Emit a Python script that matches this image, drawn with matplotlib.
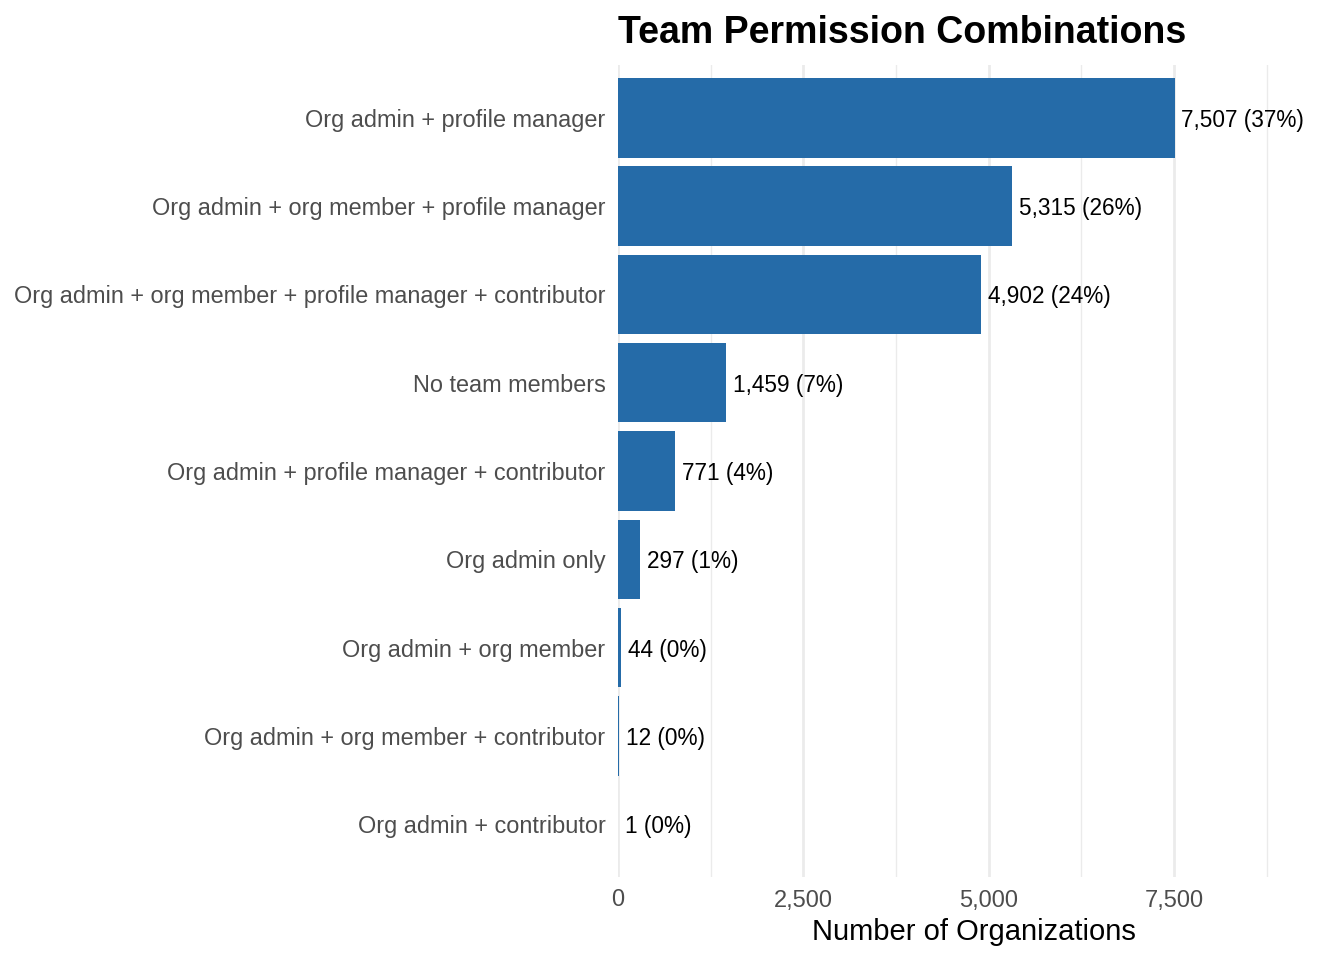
import matplotlib
matplotlib.use('Agg')
import matplotlib.pyplot as plt
from matplotlib.ticker import FuncFormatter, MultipleLocator

categories = [
    'Org admin + contributor',
    'Org admin + org member + contributor',
    'Org admin + org member',
    'Org admin only',
    'Org admin + profile manager + contributor',
    'No team members',
    'Org admin + org member + profile manager + contributor',
    'Org admin + org member + profile manager',
    'Org admin + profile manager',
]
counts = [1, 12, 44, 297, 771, 1459, 4902, 5315, 7507]
pct_labels = ['0%', '0%', '0%', '1%', '4%', '7%', '24%', '26%', '37%']

plt.rcParams['font.family'] = ['Liberation Sans', 'DejaVu Sans']

fig = plt.figure(figsize=(13.44, 9.6), dpi=100)
ax = fig.add_axes([618 / 1344, 83 / 960, (1329 - 618) / 1344, (895 - 83) / 960])

y = list(range(len(categories)))
ax.barh(y, counts, height=0.9, color='#256BA8', zorder=2)

for yi, c, p in zip(y, counts, pct_labels):
    ax.text(c + 90, yi, f'{c:,} ({p})', va='center_baseline', ha='left',
            fontsize=16.3, color='black', zorder=3)

ax.set_xlim(0, 9590)
ax.set_ylim(-0.6, len(categories) - 0.4)
ax.set_yticks(y)
ax.set_yticklabels(categories)

ax.xaxis.set_major_locator(MultipleLocator(2500))
ax.xaxis.set_minor_locator(MultipleLocator(1250))
ax.xaxis.set_major_formatter(FuncFormatter(lambda v, _: f'{int(v):,}'))
ax.grid(axis='x', which='major', color='#EBEBEB', linewidth=2.0, zorder=0)
ax.grid(axis='x', which='minor', color='#EBEBEB', linewidth=1.0, zorder=0)
ax.set_axisbelow(True)

ax.tick_params(axis='both', which='both', length=0)
ax.tick_params(axis='y', labelsize=16.9, labelcolor='#4D4D4D', pad=9)
ax.tick_params(axis='x', labelsize=17, labelcolor='#4D4D4D', pad=9)
for s in ax.spines.values():
    s.set_visible(False)

ax.set_xlabel('Number of Organizations', fontsize=21, color='black', labelpad=5)
ax.set_title('Team Permission Combinations', fontsize=27, fontweight='bold',
             loc='left', pad=16)

fig.savefig('out.png', dpi=100)
plt.close(fig)
